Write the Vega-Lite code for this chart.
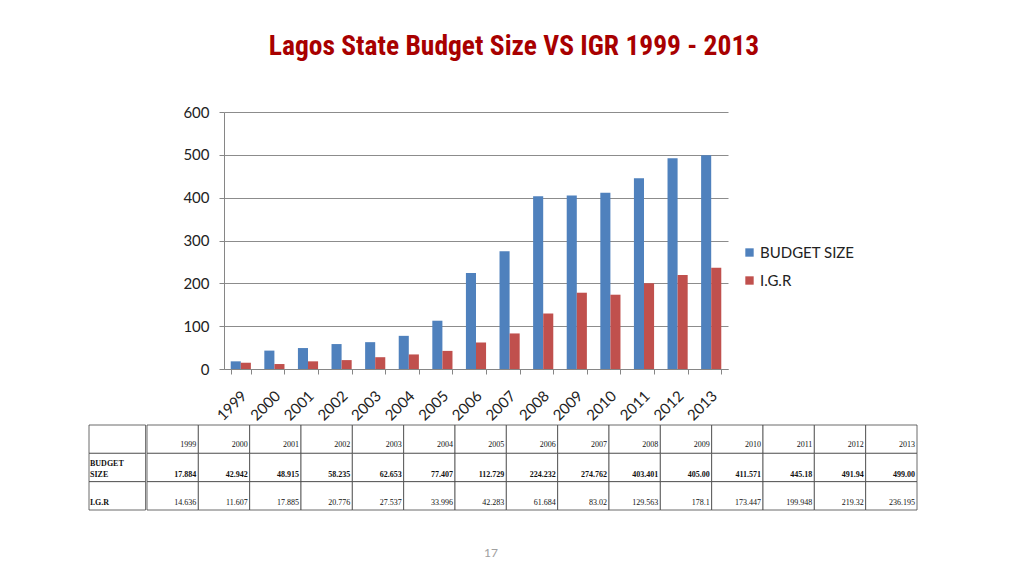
{
  "$schema": "https://vega.github.io/schema/vega-lite/v6.json",
  "background": "white",
  "padding": {"left": 88, "top": 32, "right": 0, "bottom": 0},
  "config": {"view": {"stroke": null}, "font": "Lato"},
  "title": {"text": "Lagos State Budget Size VS IGR 1999 - 2013", "font": "Roboto Condensed, Liberation Sans Narrow, Roboto, sans-serif", "fontSize": 27.5, "fontWeight": "bold", "color": "#A80000", "anchor": "middle", "dx": 11, "offset": 45},
  "datasets": {
    "d": [
      {"year": "1999", "series": "BUDGET SIZE", "value": 17.884, "label": "17.884"},
      {"year": "2000", "series": "BUDGET SIZE", "value": 42.942, "label": "42.942"},
      {"year": "2001", "series": "BUDGET SIZE", "value": 48.915, "label": "48.915"},
      {"year": "2002", "series": "BUDGET SIZE", "value": 58.235, "label": "58.235"},
      {"year": "2003", "series": "BUDGET SIZE", "value": 62.653, "label": "62.653"},
      {"year": "2004", "series": "BUDGET SIZE", "value": 77.407, "label": "77.407"},
      {"year": "2005", "series": "BUDGET SIZE", "value": 112.729, "label": "112.729"},
      {"year": "2006", "series": "BUDGET SIZE", "value": 224.232, "label": "224.232"},
      {"year": "2007", "series": "BUDGET SIZE", "value": 274.762, "label": "274.762"},
      {"year": "2008", "series": "BUDGET SIZE", "value": 403.401, "label": "403.401"},
      {"year": "2009", "series": "BUDGET SIZE", "value": 405.0, "label": "405.00"},
      {"year": "2010", "series": "BUDGET SIZE", "value": 411.571, "label": "411.571"},
      {"year": "2011", "series": "BUDGET SIZE", "value": 445.18, "label": "445.18"},
      {"year": "2012", "series": "BUDGET SIZE", "value": 491.94, "label": "491.94"},
      {"year": "2013", "series": "BUDGET SIZE", "value": 499.0, "label": "499.00"},
      {"year": "1999", "series": "I.G.R", "value": 14.636, "label": "14.636"},
      {"year": "2000", "series": "I.G.R", "value": 11.607, "label": "11.607"},
      {"year": "2001", "series": "I.G.R", "value": 17.885, "label": "17.885"},
      {"year": "2002", "series": "I.G.R", "value": 20.776, "label": "20.776"},
      {"year": "2003", "series": "I.G.R", "value": 27.537, "label": "27.537"},
      {"year": "2004", "series": "I.G.R", "value": 33.996, "label": "33.996"},
      {"year": "2005", "series": "I.G.R", "value": 42.283, "label": "42.283"},
      {"year": "2006", "series": "I.G.R", "value": 61.684, "label": "61.684"},
      {"year": "2007", "series": "I.G.R", "value": 83.02, "label": "83.02"},
      {"year": "2008", "series": "I.G.R", "value": 129.563, "label": "129.563"},
      {"year": "2009", "series": "I.G.R", "value": 178.1, "label": "178.1"},
      {"year": "2010", "series": "I.G.R", "value": 173.447, "label": "173.447"},
      {"year": "2011", "series": "I.G.R", "value": 199.948, "label": "199.948"},
      {"year": "2012", "series": "I.G.R", "value": 219.32, "label": "219.32"},
      {"year": "2013", "series": "I.G.R", "value": 236.195, "label": "236.195"}
    ]
  },
  "data": {"name": "d"},
  "spacing": 0,
  "vconcat": [
    {
      "spacing": 0,
      "hconcat": [
        {
          "width": 93,
          "height": 257,
          "mark": {"type": "text"},
          "encoding": {"text": {"value": ""}}
        },
        {
          "width": 504,
          "height": 257,
          "mark": {"type": "bar"},
          "encoding": {
            "x": {
              "field": "year", "type": "nominal",
              "scale": {"paddingInner": 0.4, "paddingOuter": 0.2},
              "axis": {"title": null, "labelAngle": -45, "labelFontSize": 15, "labelFont": "Lato", "labelColor": "#222", "labelPadding": 14, "labelOffset": -2, "tickBand": "extent", "tickSize": 5, "tickColor": "#868686", "domainColor": "#868686", "grid": false}
            },
            "xOffset": {"field": "series", "type": "nominal", "sort": ["BUDGET SIZE", "I.G.R"]},
            "y": {
              "field": "value", "type": "quantitative",
              "scale": {"domain": [0, 600], "nice": false},
              "axis": {"title": null, "values": [0, 100, 200, 300, 400, 500, 600], "labelFontSize": 15, "labelFont": "Lato", "labelColor": "#222", "labelPadding": 10, "tickSize": 5, "tickColor": "#868686", "domainColor": "#868686", "gridColor": "#8c8c8c", "gridWidth": 1}
            },
            "color": {
              "field": "series", "type": "nominal",
              "scale": {"domain": ["BUDGET SIZE", "I.G.R"], "range": ["#4F81BD", "#C0504D"]},
              "legend": {"title": null, "orient": "none", "legendX": 653, "legendY": 133, "symbolType": "square", "symbolSize": 70, "symbolStrokeWidth": 0, "labelFontSize": 15, "labelFont": "Lato", "labelColor": "#222", "rowPadding": 12, "padding": 0, "labelOffset": 3}
            }
          }
        }
      ]
    },
    {
      "spacing": 0,
      "title": {"text": "17", "orient": "bottom", "fontSize": 12, "color": "#a0a0a0", "fontWeight": "normal", "font": "Lato", "offset": 38, "dx": -12, "anchor": "middle"},
      "hconcat": [
        {
          "width": 56.6,
          "height": 85,
          "layer": [
            {
              "transform": [{"aggregate": [{"op": "count", "as": "n"}]}],
              "mark": {"type": "rect", "fill": "white", "stroke": "#444", "strokeWidth": 0.8},
              "encoding": {
                "x": {"datum": "h", "type": "nominal", "scale": {"paddingInner": 0, "paddingOuter": 0}, "axis": null},
                "y": {"datum": "header", "type": "nominal", "scale": {"domain": ["header", "BUDGET SIZE", "I.G.R"], "paddingInner": 0, "paddingOuter": 0}, "axis": null}
              }
            },
            {
              "transform": [{"aggregate": [{"op": "count", "as": "n"}], "groupby": ["series"]}],
              "mark": {"type": "rect", "fill": "white", "stroke": "#444", "strokeWidth": 0.8},
              "encoding": {
                "x": {"datum": "h", "type": "nominal"},
                "y": {"field": "series", "type": "nominal"}
              }
            },
            {
              "transform": [{"aggregate": [{"op": "count", "as": "n"}], "groupby": ["series"]}, {"filter": "datum.series == 'BUDGET SIZE'"}],
              "mark": {"type": "text", "align": "left", "baseline": "bottom", "dx": 1, "dy": -14, "font": "Liberation Serif", "fontSize": 8, "fontWeight": "bold", "lineBreak": " ", "lineHeight": 11, "color": "#111"},
              "encoding": {
                "x": {"datum": "h", "type": "nominal", "bandPosition": 0},
                "y": {"field": "series", "type": "nominal", "bandPosition": 1},
                "text": {"field": "series"}
              }
            },
            {
              "transform": [{"aggregate": [{"op": "count", "as": "n"}], "groupby": ["series"]}, {"filter": "datum.series == 'I.G.R'"}],
              "mark": {"type": "text", "align": "left", "baseline": "bottom", "dx": 1, "dy": -3, "font": "Liberation Serif", "fontSize": 8, "fontWeight": "bold", "color": "#111"},
              "encoding": {
                "x": {"datum": "h", "type": "nominal", "bandPosition": 0},
                "y": {"field": "series", "type": "nominal", "bandPosition": 1},
                "text": {"field": "series"}
              }
            }
          ]
        },
        {
          "width": 770,
          "height": 85,
          "layer": [
            {
              "transform": [{"aggregate": [{"op": "count", "as": "n"}], "groupby": ["year"]}],
              "mark": {"type": "rect", "fill": "white", "stroke": "#444", "strokeWidth": 0.8},
              "encoding": {
                "x": {"field": "year", "type": "nominal", "scale": {"paddingInner": 0, "paddingOuter": 0}, "axis": null},
                "y": {"datum": "header", "type": "nominal", "scale": {"domain": ["header", "BUDGET SIZE", "I.G.R"], "paddingInner": 0, "paddingOuter": 0}, "axis": null}
              }
            },
            {
              "mark": {"type": "rect", "fill": "white", "stroke": "#444", "strokeWidth": 0.8},
              "encoding": {
                "x": {"field": "year", "type": "nominal"},
                "y": {"field": "series", "type": "nominal"}
              }
            },
            {
              "transform": [{"aggregate": [{"op": "count", "as": "n"}], "groupby": ["year"]}],
              "mark": {"type": "text", "align": "right", "baseline": "bottom", "dx": -2, "dy": -4, "font": "Liberation Serif", "fontSize": 8, "color": "#111"},
              "encoding": {
                "x": {"field": "year", "type": "nominal", "bandPosition": 1},
                "y": {"datum": "header", "type": "nominal", "bandPosition": 1},
                "text": {"field": "year"}
              }
            },
            {
              "transform": [{"filter": "datum.series == 'BUDGET SIZE'"}],
              "mark": {"type": "text", "align": "right", "baseline": "bottom", "dx": -2, "dy": -3, "font": "Liberation Serif", "fontSize": 8, "fontWeight": "bold", "color": "#111"},
              "encoding": {
                "x": {"field": "year", "type": "nominal", "bandPosition": 1},
                "y": {"field": "series", "type": "nominal", "bandPosition": 1},
                "text": {"field": "label"}
              }
            },
            {
              "transform": [{"filter": "datum.series == 'I.G.R'"}],
              "mark": {"type": "text", "align": "right", "baseline": "bottom", "dx": -2, "dy": -3, "font": "Liberation Serif", "fontSize": 8, "color": "#111"},
              "encoding": {
                "x": {"field": "year", "type": "nominal", "bandPosition": 1},
                "y": {"field": "series", "type": "nominal", "bandPosition": 1},
                "text": {"field": "label"}
              }
            }
          ]
        }
      ]
    }
  ]
}
